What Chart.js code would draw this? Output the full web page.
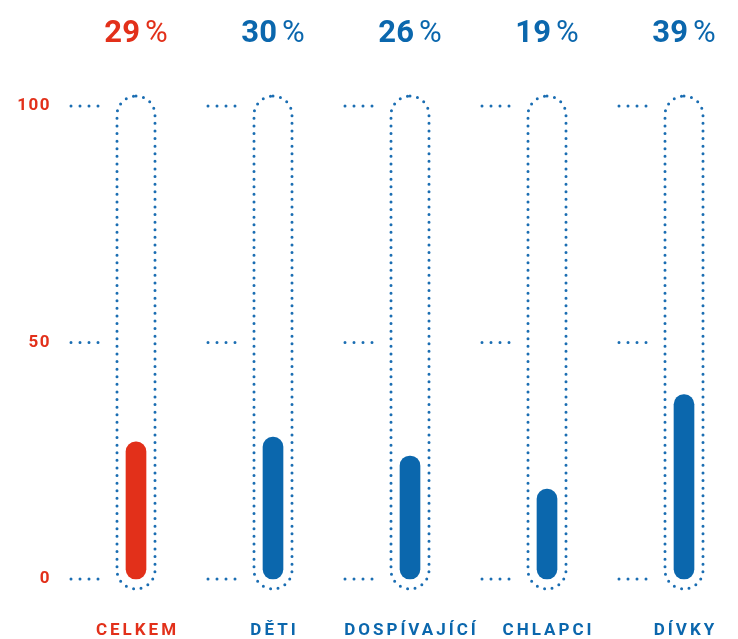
<!DOCTYPE html>
<html>
<head>
<meta charset="utf-8">
<script src="https://cdn.jsdelivr.net/npm/chart.js@4/dist/chart.umd.min.js"></script>
<style>
  html, body { margin: 0; padding: 0; background: #fff; }
  #wrap { width: 738px; height: 639px; position: relative; }
</style>
</head>
<body>
<div id="wrap"><canvas id="chart"></canvas></div>
<script>
// data
const categories = ['CELKEM', 'DĚTI', 'DOSPÍVAJÍCÍ', 'CHLAPCI', 'DÍVKY'];
const values = [29, 30, 26, 19, 39];
const yTicks = [0, 50, 100];

const RED = '#e2301a';
const BLUE = '#0b67ad';
const DOT = '#1a6db2';
const colors = categories.map((c, i) => i === 0 ? RED : BLUE);

// tubes, dotted ticks and labels
const decor = {
  id: 'decor',
  beforeDatasetsDraw(chart) {
    const ctx = chart.ctx;
    const x = chart.scales.x, y = chart.scales.y;
    const top = y.getPixelForValue(100), bottom = y.getPixelForValue(0);
    ctx.save();
    ctx.strokeStyle = DOT;
    ctx.lineCap = 'round';
    ctx.lineWidth = 3;
    categories.forEach((c, i) => {
      const cx = x.getPixelForValue(i);
      // tube
      ctx.setLineDash([0, 7.6]);
      ctx.beginPath();
      ctx.roundRect(cx - 19, top - 10, 38, bottom - top + 20, 19);
      ctx.stroke();
      // dotted ticks
      ctx.setLineDash([0, 9]);
      yTicks.forEach(t => {
        const py = y.getPixelForValue(t);
        ctx.beginPath();
        ctx.moveTo(cx - 65, py);
        ctx.lineTo(cx - 37, py);
        ctx.stroke();
      });
    });
    ctx.restore();
  },
  afterDatasetsDraw(chart) {
    const ctx = chart.ctx;
    const x = chart.scales.x, y = chart.scales.y;
    ctx.save();
    // y tick labels
    ctx.fillStyle = RED;
    ctx.font = 'bold 17px Roboto';
    ctx.letterSpacing = '1.5px';
    ctx.textAlign = 'right';
    ctx.textBaseline = 'middle';
    yTicks.forEach(t => ctx.fillText(String(t), 51, y.getPixelForValue(t)));

    categories.forEach((c, i) => {
      const cx = x.getPixelForValue(i);
      ctx.fillStyle = colors[i];
      // value on top
      ctx.letterSpacing = '0px';
      ctx.textBaseline = 'alphabetic';
      ctx.font = 'bold 31px Roboto';
      const num = String(values[i]);
      const wNum = ctx.measureText(num).width;
      ctx.font = '31px Roboto';
      const wPct = ctx.measureText('%').width;
      const gap = 5;
      const sx = cx - (wNum + gap + wPct) / 2;
      ctx.textAlign = 'left';
      ctx.font = 'bold 31px Roboto';
      ctx.fillText(num, sx, 42);
      ctx.font = '31px Roboto';
      ctx.fillText('%', sx + wNum + gap, 42);
      // category name
      ctx.font = 'bold 17px Roboto';
      ctx.letterSpacing = '3px';
      ctx.textAlign = 'center';
      ctx.textBaseline = 'middle';
      ctx.fillText(c, cx + 1.5, 631);
    });
    ctx.restore();
  }
};

new Chart(document.getElementById('chart'), {
  type: 'bar',
  data: {
    labels: categories,
    datasets: [{
      data: values,
      backgroundColor: colors,
      barThickness: 20,
      borderRadius: 10,
      borderSkipped: false,
      clip: false
    }]
  },
  options: {
    responsive: true,
    maintainAspectRatio: false,
    animation: false,
    layout: { padding: { left: 136, right: 54, top: 106, bottom: 60 } },
    plugins: { legend: { display: false }, tooltip: { enabled: false } },
    scales: {
      x: { display: false, offset: false },
      y: { display: false, min: 0, max: 100 }
    }
  },
  plugins: [decor]
});
</script>
</body>
</html>
